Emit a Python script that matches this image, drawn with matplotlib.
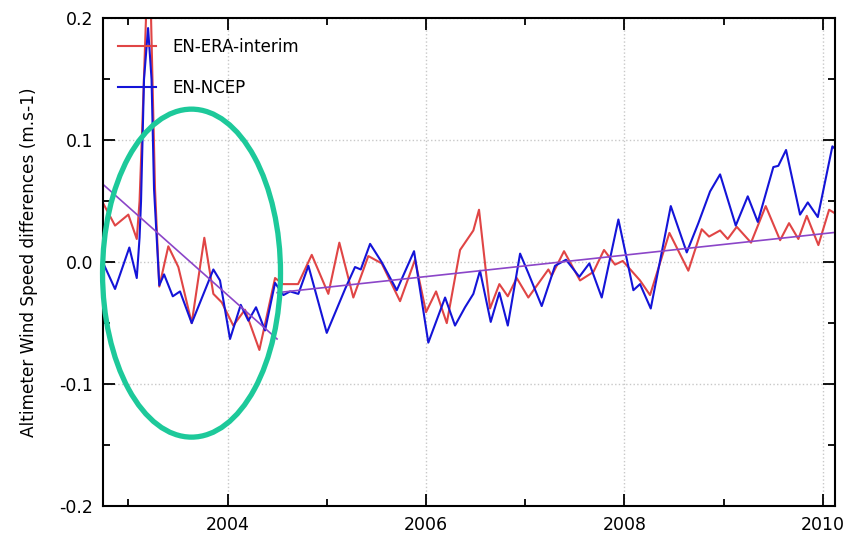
import numpy as np
import matplotlib.pyplot as plt
from matplotlib.patches import Ellipse
from matplotlib.ticker import MultipleLocator

# EN-ERA-interim (decimal year, m/s)
era_t = [2002.748, 2002.866, 2003.000, 2003.085, 2003.113, 2003.143, 2003.178, 2003.204,
         2003.229, 2003.269, 2003.312, 2003.403, 2003.504, 2003.639, 2003.766, 2003.857,
         2003.942, 2004.058, 2004.176, 2004.321, 2004.479, 2004.559, 2004.711, 2004.849,
         2005.016, 2005.127, 2005.268, 2005.419, 2005.554, 2005.739, 2005.890, 2006.001,
         2006.102, 2006.210, 2006.344, 2006.478, 2006.535, 2006.646, 2006.740, 2006.825,
         2006.915, 2007.032, 2007.234, 2007.268, 2007.392, 2007.553, 2007.688, 2007.795,
         2007.906, 2007.984, 2008.158, 2008.259, 2008.454, 2008.645, 2008.780, 2008.854,
         2008.965, 2009.042, 2009.133, 2009.277, 2009.425, 2009.570, 2009.660, 2009.754,
         2009.839, 2009.956, 2010.064, 2010.124]
era_v = [0.048, 0.030, 0.039, 0.019, 0.050, 0.117, 0.200, 0.225,
         0.200, 0.060, -0.020, 0.013, -0.004, -0.050, 0.020, -0.026,
         -0.033, -0.052, -0.039, -0.072, -0.013, -0.018, -0.018, 0.006,
         -0.026, 0.016, -0.029, 0.005, -0.001, -0.032, 0.002, -0.041,
         -0.024, -0.050, 0.010, 0.026, 0.043, -0.038, -0.018, -0.028,
         -0.013, -0.029, -0.006, -0.011, 0.009, -0.015, -0.008, 0.010,
         -0.002, 0.001, -0.015, -0.027, 0.024, -0.007, 0.027, 0.021,
         0.026, 0.019, 0.029, 0.016, 0.046, 0.018, 0.032, 0.019,
         0.038, 0.014, 0.043, 0.040]

# EN-NCEP
ncep_t = [2002.748, 2002.866, 2003.010, 2003.085, 2003.113, 2003.128, 2003.158, 2003.199,
          2003.234, 2003.259, 2003.312, 2003.360, 2003.448, 2003.521, 2003.639, 2003.857,
          2003.924, 2004.025, 2004.133, 2004.210, 2004.287, 2004.378, 2004.479, 2004.563,
          2004.630, 2004.714, 2004.815, 2005.000, 2005.185, 2005.285, 2005.343, 2005.437,
          2005.554, 2005.706, 2005.880, 2006.024, 2006.193, 2006.293, 2006.394, 2006.478,
          2006.545, 2006.653, 2006.740, 2006.825, 2006.949, 2007.032, 2007.167, 2007.301,
          2007.412, 2007.546, 2007.647, 2007.772, 2007.940, 2008.091, 2008.158, 2008.266,
          2008.468, 2008.629, 2008.746, 2008.864, 2008.965, 2009.123, 2009.244, 2009.345,
          2009.502, 2009.552, 2009.630, 2009.771, 2009.849, 2009.950, 2010.097, 2010.124]
ncep_v = [-0.001, -0.022, 0.012, -0.013, 0.020, 0.050, 0.150, 0.192,
          0.150, 0.060, -0.019, -0.010, -0.028, -0.024, -0.050, -0.006,
          -0.015, -0.063, -0.035, -0.048, -0.037, -0.056, -0.017, -0.027,
          -0.024, -0.026, -0.003, -0.058, -0.022, -0.004, -0.006, 0.015,
          0.000, -0.023, 0.009, -0.066, -0.029, -0.052, -0.037, -0.026,
          -0.007, -0.049, -0.025, -0.052, 0.007, -0.009, -0.036, -0.003,
          0.002, -0.012, -0.001, -0.029, 0.035, -0.023, -0.018, -0.038,
          0.046, 0.008, 0.032, 0.058, 0.072, 0.030, 0.054, 0.033,
          0.078, 0.079, 0.092, 0.039, 0.049, 0.037, 0.095, 0.093]

# linear trends (before / after mid-2004)
trend1_t = [2002.742, 2004.499]
trend1_v = [0.064, -0.063]
trend2_t = [2004.5, 2010.124]
trend2_v = [-0.025, 0.0244]

fig = plt.figure(figsize=(8.47, 5.37), dpi=100)
ax = fig.add_axes([0.1213, 0.0577, 0.8646, 0.9082])

ax.plot(era_t, era_v, color='#e04545', lw=1.5, solid_joinstyle='round', label='EN-ERA-interim')
ax.plot(ncep_t, ncep_v, color='#1414d8', lw=1.5, solid_joinstyle='round', label='EN-NCEP')
ax.plot(trend1_t, trend1_v, color='#8b45c8', lw=1.2)
ax.plot(trend2_t, trend2_v, color='#8b45c8', lw=1.2)

ell = Ellipse((2003.637, -0.009), 1.794, 0.269, fill=False,
              edgecolor='#1dc99a', lw=3.8, clip_on=False, zorder=5)
ax.add_patch(ell)

ax.set_xlim(2002.742, 2010.124)
ax.set_ylim(-0.2, 0.2)
ax.set_xticks([2004, 2006, 2008, 2010])
ax.set_xticklabels(['2004', '2006', '2008', '2010'])
ax.xaxis.set_minor_locator(MultipleLocator(1))
ax.set_yticks([-0.2, -0.1, 0.0, 0.1, 0.2])
ax.set_yticklabels(['-0.2', '-0.1', '0.0', '0.1', '0.2'])
ax.yaxis.set_minor_locator(MultipleLocator(0.05))

ax.tick_params(which='both', direction='in', top=True, right=True,
               width=1.3, labelsize=12.5)
ax.tick_params(which='major', length=8.5, pad=7)
ax.tick_params(which='minor', length=5)
for s in ax.spines.values():
    s.set_linewidth(1.5)

ax.grid(True, which='major', color='#c8c8c8', linestyle=':', lw=1.0)

ax.set_ylabel('Altimeter Wind Speed differences (m.s-1)', fontsize=12.2)
ax.yaxis.set_label_coords(-0.088, 0.5)

ax.legend(loc='upper left', bbox_to_anchor=(0.0, 0.99), frameon=False,
          fontsize=12, handlelength=2.3, handletextpad=1.0, labelspacing=1.35)

plt.savefig('out.png', dpi=100)
